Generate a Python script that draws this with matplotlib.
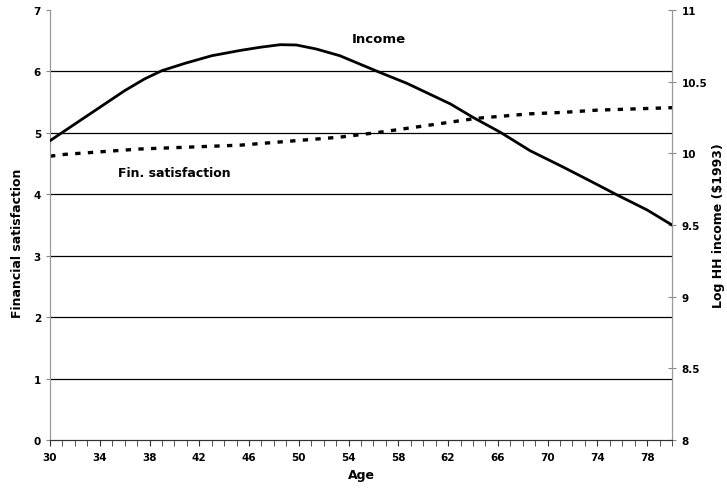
import numpy as np
import matplotlib.pyplot as plt

# income (right axis, log HH income $1993)
inc_age = [30, 31.2, 32.8, 34.4, 36.0, 37.6, 39.0, 40.85, 43.0, 45.3, 46.9, 48.5, 49.8,
           51.4, 53.3, 54.9, 56.5, 58.7, 60.5, 62.2, 64.0, 66.2, 68.6, 71.3, 73.9, 75.6, 78.0, 80]
income = [10.088, 10.158, 10.251, 10.344, 10.437, 10.519, 10.577, 10.628, 10.681, 10.718, 10.74,
          10.758, 10.756, 10.728, 10.681, 10.623, 10.565, 10.488, 10.414, 10.344, 10.251, 10.147,
          10.018, 9.902, 9.786, 9.709, 9.605, 9.5]

# financial satisfaction (left axis)
sat_age = [30, 31.2, 37.2, 45.3, 53.3, 56.5, 61.0, 64.3, 68.6, 71.3, 74.0, 80]
fin_sat = [4.62, 4.65, 4.737, 4.8, 4.93, 5.01, 5.14, 5.237, 5.31, 5.334, 5.37, 5.41]

xticks = list(range(30, 80, 4))

fig = plt.figure(figsize=(7.27, 4.89), dpi=100)
ax = fig.add_axes([50/727, 48/489, 622/727, 430/489])
ax2 = ax.twinx()

bold = {'fontweight': 'bold', 'fontsize': 7.5}

ax.set_xlim(30, 80)
ax.set_ylim(0, 7)
ax2.set_ylim(8, 11)

for v in range(1, 7):
    ax.axhline(v, color='black', lw=0.9, zorder=1)

ax.plot(sat_age, fin_sat, color='black', lw=2.4, linestyle=(0, (1.6, 2.2)), dash_capstyle='butt', zorder=3)
ax2.plot(inc_age, income, color='black', lw=2.0, zorder=3)

ax.set_xticks(xticks)
ax.set_xticks(range(30, 81), minor=True)
ax.set_xticklabels([str(t) for t in xticks], **bold)
ax.tick_params(axis='x', which='both', direction='out', length=4, pad=5, color='#333333')

ax.set_yticks(range(0, 8))
ax.set_yticklabels([str(t) for t in range(0, 8)], **bold)
ax.tick_params(axis='y', direction='out', length=3, color='#888888')

ax2.set_yticks([8, 8.5, 9, 9.5, 10, 10.5, 11])
ax2.set_yticklabels(['8', '8.5', '9', '9.5', '10', '10.5', '11'], **bold)
ax2.tick_params(axis='y', direction='inout', length=6, color='#888888', pad=4)

for a in (ax, ax2):
    a.spines['top'].set_visible(False)
    a.spines['left'].set_color('#999999')
    a.spines['right'].set_color('#999999')
    a.spines['bottom'].set_color('#333333')

ax.set_xlabel('Age', fontweight='bold', fontsize=9)
ax.set_ylabel('Financial satisfaction', fontweight='bold', fontsize=9)
ax.yaxis.set_label_coords(-0.042, 0.46)
ax2.set_ylabel('Log HH income ($1993)', fontweight='bold', fontsize=9)
ax2.yaxis.set_label_coords(1.064, 0.5)

ax.text(56.4, 6.53, 'Income', fontweight='bold', fontsize=9.5, ha='center', va='center')
ax.text(40.0, 4.35, 'Fin. satisfaction', fontweight='bold', fontsize=9, ha='center', va='center')

fig.savefig('out.png', dpi=100)
